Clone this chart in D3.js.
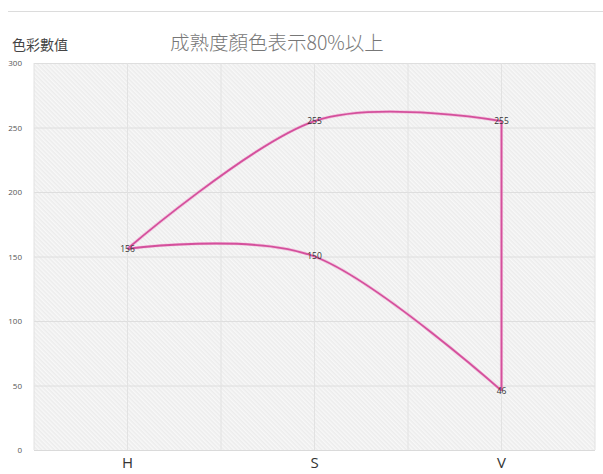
<!DOCTYPE html>
<html>
<head>
<meta charset="utf-8">
<script src="https://cdn.jsdelivr.net/npm/d3@7"></script>
<style>
  html, body { margin: 0; padding: 0; background: #fff; }
  svg { display: block; }
</style>
</head>
<body>
<svg id="chart" width="603" height="474"></svg>
<script>
const categories = ["H", "S", "V"];
const upperValues = [156, 255, 255];
const lowerValues = [156, 150, 46];
const yTicks = [0, 50, 100, 150, 200, 250, 300];
const titleText = "成熟度顏色表示80%以上";
const yTitleText = "色彩數值";

(function () {
const svg = d3.select("#chart");
const pLeft = 34, pRight = 595, pTop = 63, pBottom = 450;

// top separator line
svg.append("line").attr("x1", 8).attr("x2", 603).attr("y1", 11.5).attr("y2", 11.5)
  .attr("stroke", "#dcdcdc").attr("stroke-width", 1);

const defs = svg.append("defs");
const pat = defs.append("pattern").attr("id", "hatch")
  .attr("patternUnits", "userSpaceOnUse").attr("width", 3).attr("height", 3)
  .attr("patternTransform", "rotate(-45)");
pat.append("rect").attr("width", 3).attr("height", 3).attr("fill", "#ececec");
pat.append("line").attr("x1", 0.75).attr("x2", 0.75).attr("y1", 0).attr("y2", 3)
  .attr("stroke", "#fafafa").attr("stroke-width", 1.3);

const x = d3.scaleBand().domain(categories).range([pLeft, pRight]);
const cx = c => x(c) + x.bandwidth() / 2;
const y = d3.scaleLinear().domain([0, 300]).range([pBottom, pTop]);

svg.append("rect").attr("x", pLeft).attr("y", pTop)
  .attr("width", pRight - pLeft).attr("height", pBottom - pTop)
  .attr("fill", "url(#hatch)");

// horizontal gridlines
const yAxis = d3.axisLeft(y).tickValues(yTicks).tickSize(-(pRight - pLeft)).tickPadding(12);
const gy = svg.append("g").attr("transform", `translate(${pLeft},0)`).call(yAxis);
gy.select(".domain").remove();
gy.selectAll(".tick line").attr("stroke", "#dedede").attr("stroke-width", 1);
gy.selectAll(".tick text").attr("fill", "#555").attr("font-size", 8)
  .attr("font-family", "'Open Sans', 'DejaVu Sans', sans-serif");

// vertical gridlines: band edges and centers
const vLines = [];
categories.forEach(c => { vLines.push(x(c)); vLines.push(cx(c)); });
vLines.push(x(categories[categories.length - 1]) + x.bandwidth());
svg.append("g").selectAll("line").data(vLines).join("line")
  .attr("x1", d => d).attr("x2", d => d).attr("y1", pTop).attr("y2", pBottom)
  .attr("stroke", "#e2e2e2").attr("stroke-width", 1);

// x axis labels
const xAxis = d3.axisBottom(x).tickSize(0).tickPadding(7);
const gx = svg.append("g").attr("transform", `translate(0,${pBottom})`).call(xAxis);
gx.select(".domain").remove();
gx.selectAll(".tick text").attr("fill", "#333").attr("font-size", 15)
  .attr("font-family", "'Open Sans', 'DejaVu Sans', sans-serif");

// bottom baseline
svg.append("line").attr("x1", pLeft).attr("x2", pRight).attr("y1", pBottom + 0.5).attr("y2", pBottom + 0.5)
  .attr("stroke", "#dadada");

const line = d3.line().x(d => cx(d.c)).y(d => y(d.v)).curve(d3.curveCardinal.tension(0));
const upper = categories.map((c, i) => ({ c, v: upperValues[i] }));
const lower = categories.map((c, i) => ({ c, v: lowerValues[i] }));
const lastC = categories[categories.length - 1];

const lineColor = "#d4509c";
[upper, lower].forEach(s => {
  svg.append("path").datum(s).attr("d", line)
    .attr("fill", "none").attr("stroke", "#f2a9d2").attr("stroke-width", 3.2).attr("opacity", 0.6);
  svg.append("path").datum(s).attr("d", line)
    .attr("fill", "none").attr("stroke", lineColor).attr("stroke-width", 1.8);
});
// connector at last category
const conn = [{ c: lastC, v: upperValues[2] }, { c: lastC, v: lowerValues[2] }];
const straight = d3.line().x(d => cx(d.c)).y(d => y(d.v));
svg.append("path").datum(conn).attr("d", straight)
  .attr("fill", "none").attr("stroke", "#f2a9d2").attr("stroke-width", 3.2).attr("opacity", 0.6);
svg.append("path").datum(conn).attr("d", straight)
  .attr("fill", "none").attr("stroke", lineColor).attr("stroke-width", 1.8);

// data labels
const labels = [upper[0], upper[1], upper[2], lower[1], lower[2]];
svg.append("g").selectAll("text").data(labels).join("text")
  .attr("x", d => cx(d.c)).attr("y", d => y(d.v)).attr("dy", "0.35em")
  .attr("text-anchor", "middle").attr("fill", "#333").attr("font-size", 8.5)
  .attr("font-family", "'Open Sans', 'DejaVu Sans', sans-serif")
  .text(d => d.v);

// titles
svg.append("text").attr("x", 12).attr("y", 50).attr("fill", "#444")
  .attr("font-size", 14).attr("font-family", "'Noto Sans CJK TC', sans-serif")
  .attr("font-weight", 400)
  .text(yTitleText);
svg.append("text").attr("x", 170).attr("y", 50).attr("fill", "#777")
  .attr("font-size", 19.5).attr("font-family", "'Noto Sans CJK TC', sans-serif")
  .attr("font-weight", 300)
  .text(titleText);
})();
</script>
</body>
</html>
